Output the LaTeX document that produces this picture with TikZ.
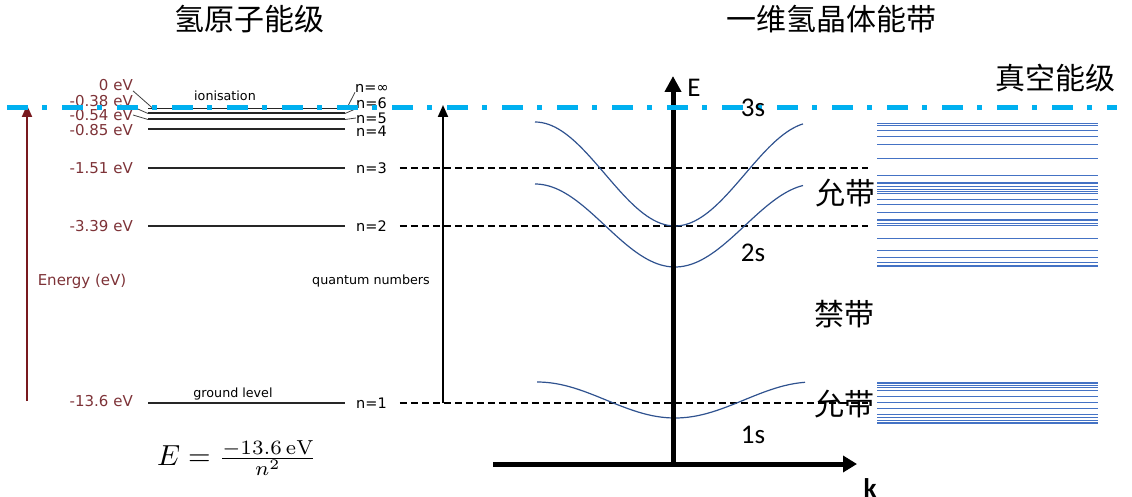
\documentclass[tikz,border=0pt]{standalone}
\usepackage{fontspec}
\usepackage{amsmath}
\usepackage{xcolor}
\usepackage{graphicx}
\usetikzlibrary{arrows.meta}
\newfontfamily\cjk{Noto Sans CJK SC}
\newfontfamily\verd{DejaVu Sans}
\newfontfamily\cali{Carlito}
\definecolor{levelred}{RGB}{120,25,30}
\definecolor{labelred}{RGB}{125,50,55}
\definecolor{vacblue}{RGB}{0,176,240}
\definecolor{bandblue}{RGB}{47,82,143}
\definecolor{statblue}{RGB}{68,114,196}

\begin{document}
\begin{tikzpicture}[x=1pt,y=-1pt,
  level/.style={draw=black!85,line width=2pt},
  evlab/.style={labelred,anchor=east,inner sep=0pt,font=\verd\fontsize{15}{18}\selectfont},
  nlab/.style={anchor=west,inner sep=0pt,font=\verd\fontsize{14.5}{17}\selectfont},
  smalllab/.style={inner sep=0pt,font=\verd\fontsize{12.7}{15}\selectfont},
  cn/.style={inner sep=0pt,font=\cjk\fontsize{30}{36}\selectfont},
  lat/.style={inner sep=0pt,font=\cali\fontsize{27}{32}\selectfont},
  leader/.style={black!75,line width=0.8pt},
  guide/.style={black,line width=1.2pt,dash pattern=on 7pt off 4pt}]
  \useasboundingbox (0,0) rectangle (1132,497);
  % titles
  \node[cn] (hatom) at (249,19) {氢原子能级};
  \node[cn] (hcrys) at (831,19) {一维氢晶体能带};
  \node[cn] (vac) at (1055,78) {真空能级};
  % hydrogen levels
  \coordinate (linfw) at (153,108.5); \coordinate (linfe) at (345,108.5);
  \draw[level,line width=1.6pt] (148,108.5) -- (linfe);
  \foreach \y in {403,226,168,129.5,119.5,113.5}
    \draw[level] (148,\y) -- (345,\y);
  \node[evlab] (ev0) at (133,85) {0 eV};
  \node[evlab] (ev6) at (133,101) {-0.38 eV};
  \node[evlab] (ev5) at (133,115) {-0.54 eV};
  \node[evlab] (ev4) at (133,130) {-0.85 eV};
  \node[evlab] (ev3) at (133,168) {-1.51 eV};
  \node[evlab] (ev2) at (133,226) {-3.39 eV};
  \node[evlab] (ev1) at (133,401) {-13.6 eV};
  \draw[leader] (ev0.south east) -- (linfw);
  \draw[leader] (ev6.south east) -- (148,113.5);
  \draw[leader] (ev5.east) -- (148,119.5);
  \node[nlab] (ninf) at (355,88) {n=∞};
  \node[nlab] (n6) at (356,103) {n=6};
  \node[nlab] (n5) at (356,118) {n=5};
  \node[nlab] (n4) at (356,131) {n=4};
  \node[nlab] (n3) at (356,168) {n=3};
  \node[nlab] (n2) at (356,226) {n=2};
  \node[nlab] (n1) at (356,403) {n=1};
  \draw[leader] (348,106) -- (ninf.south west);
  \draw[leader] (345,113.5) -- (n6.south west);
  \draw[leader] (345,119.5) -- (n5.west);
  \node[smalllab] (ion) at (225,96) {ionisation};
  \node[smalllab] (ground) at (233,394) {ground level};
  \node[smalllab] (qnum) at (371,281) {quantum numbers};
  \node[evlab,anchor=center] (energy) at (82,281) {Energy (eV)};
  \draw[levelred,line width=2pt,-{Triangle[length=12pt,width=10pt]}] (27,401) -- (27,105);
  \draw[black,line width=2pt,-{Triangle[length=12pt,width=10pt]}] (443,403) -- (443,105);
  \node[inner sep=0pt] (formula) at (237,458) {\scalebox{2.9}{$E=\frac{-13.6\,\mathrm{eV}}{n^2}$}};
  % guides to the bands
  \draw[guide] ([xshift=13pt]n3.east) -- (868,168);
  \draw[guide] ([xshift=13pt]n2.east) -- (868,226);
  \draw[guide] ([xshift=13pt]n1.east) -- (868,403);
  % E(k) curves
  \draw[bandblue,line width=1.2pt] plot[domain=-140:128,samples=80,smooth] ({675+\x},{174+52*cos(\x/140*180)});
  \draw[bandblue,line width=1.2pt] plot[domain=-140:128,samples=80,smooth] ({675+\x},{225.5+41.5*cos(\x/140*180)});
  \draw[bandblue,line width=1.2pt] plot[domain=-138:130,samples=80,smooth] ({675+\x},{400+18*cos(\x/138*180)});
  % axes
  \draw[line width=5pt,-{Triangle[length=16pt,width=16pt]}] (673,466) -- (673,76);
  \draw[line width=5pt,-{Triangle[length=14pt,width=16pt]}] (493,464) -- (857,464);
  \node[lat] (elab) at (694,88) {E};
  \node[lat,font=\cali\bfseries\fontsize{27}{32}\selectfont] (klab) at (870,488) {k};
  % states of the crystal
  \foreach \y/\w in {123.5/1.6,125.5/1.4,130.3/1,136.3/1,144.7/0.8,159/1,175.3/1,183.3/1.6,186.7/0.8,189/0.8,191.7/0.8,193.3/0.8,200/1,205/1,212.7/1.4,220/1,223.3/1,225.7/1.5,238.3/1,250/1,257.3/1,262.3/1,266/1.5,
                     383/1.6,385/1,387.3/1,390.7/1,396/0.8,402.3/1,408.3/1,414/1,417.3/0.8,420.7/1,423/1.6}
    \draw[statblue,line width=\w pt] (877,\y) -- (1098,\y);
  % vacuum level
  \draw[vacblue,line width=5pt,dash pattern=on 21pt off 14pt on 5pt off 15pt] (7,108) -- (1117,108);
  \node[lat] (s3) at (753,108) {3s};
  \node[lat] (s2) at (753,253) {2s};
  \node[lat] (s1) at (753,435) {1s};
  \node[cn] (allow2) at (845,193) {允带};
  \node[cn] (gap) at (844,314) {禁带};
  \node[cn] (allow1) at (844,404) {允带};
\end{tikzpicture}
\end{document}
